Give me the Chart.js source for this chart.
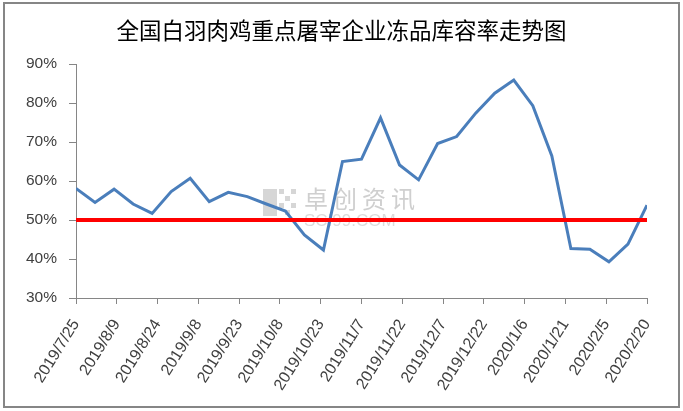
<!DOCTYPE html>
<html>
<head>
<meta charset="utf-8">
<script src="https://cdn.jsdelivr.net/npm/chart.js@4"></script>
<style>
html,body{margin:0;padding:0;background:#fff;}
#wrap{position:relative;width:683px;height:411px;}
</style>
</head>
<body>
<div id="wrap"><canvas id="c" width="683" height="411"></canvas></div>
<script>
const chartTitle = '全国白羽肉鸡重点屠宰企业冻品库容率走势图';
const dates = ['2019/7/25','2019/8/1','2019/8/8','2019/8/15','2019/8/22','2019/8/29','2019/9/5','2019/9/12','2019/9/19','2019/9/26','2019/10/3','2019/10/10','2019/10/17','2019/10/24','2019/10/31','2019/11/7','2019/11/14','2019/11/21','2019/11/28','2019/12/5','2019/12/12','2019/12/19','2019/12/26','2020/1/2','2020/1/9','2020/1/16','2020/1/23','2020/1/30','2020/2/6','2020/2/13','2020/2/20'];
const rates = [58.1, 54.5, 57.9, 54.1, 51.7, 57.3, 60.7, 54.7, 57.1, 56.0, 54.1, 52.3, 46.2, 42.3, 65.0, 65.6, 76.2, 64.1, 60.3, 69.6, 71.4, 77.4, 82.5, 85.9, 79.3, 66.4, 42.7, 42.5, 39.3, 43.8, 53.8];
const tickLabels = ['2019/7/25','2019/8/9','2019/8/24','2019/9/8','2019/9/23','2019/10/8','2019/10/23','2019/11/7','2019/11/22','2019/12/7','2019/12/22','2020/1/6','2020/1/21','2020/2/5','2020/2/20'];
const yTicks = [30, 40, 50, 60, 70, 80, 90];
const warningLevel = 50;
const watermark = ['卓创资讯', 'SCI99.COM'];

function dayNum(s){ const p = s.split('/').map(Number); return Date.UTC(p[0], p[1]-1, p[2]) / 86400000; }
const day0 = dayNum(dates[0]);
const toX = s => dayNum(s) - day0;
const tickDays = tickLabels.map(toX);
const lastDay = toX(dates[dates.length-1]);

const lineData = dates.map((d,i) => ({x: toX(d), y: rates[i]}));
const refData = [{x: 0, y: warningLevel}, {x: lastDay, y: warningLevel}];

const GRAY = '#868686';
const TXT = '#404040';

const framePlugin = {
  id: 'frame',
  beforeDraw(chart){
    const ctx = chart.ctx;
    ctx.save();
    ctx.fillStyle = '#fff';
    ctx.fillRect(0,0,chart.width,chart.height);
    ctx.restore();
  },
  beforeDatasetsDraw(chart){
    const ctx = chart.ctx;
    ctx.save();
    ctx.fillStyle = 'rgba(200,200,200,0.75)';
    ctx.fillRect(263, 189, 14, 27);
    for (let r=0;r<4;r++) for (let c=0;c<3;c++) if ((r+c)%2===0) ctx.fillRect(279+c*6, 189+r*7, 5, 5);
    ctx.fillStyle = 'rgba(195,195,195,0.8)';
    ctx.font = '24px "Noto Sans CJK SC"';
    ctx.textBaseline = 'middle';
    watermark[0].split('').forEach((ch,i)=>ctx.fillText(ch, 304 + i*29, 199));
    ctx.font = '17px "Liberation Sans"';
    ctx.fillStyle = 'rgba(210,210,210,0.8)';
    ctx.fillText(watermark[1], 304, 221);
    ctx.restore();
  },
  afterDraw(chart){
    const ctx = chart.ctx;
    ctx.save();
    ctx.strokeStyle = GRAY;
    ctx.lineWidth = 2;
    ctx.strokeRect(4, 3, 675, 404);
    ctx.restore();
  }
};

new Chart(document.getElementById('c'), {
  type: 'line',
  data: {
    datasets: [
      { data: lineData, borderColor: '#4a7ebb', borderWidth: 3, pointRadius: 0, tension: 0, fill: false, order: 2 },
      { data: refData, borderColor: '#ff0000', borderWidth: 4, pointRadius: 0, tension: 0, fill: false, order: 1 }
    ]
  },
  options: {
    responsive: false,
    animation: false,
    devicePixelRatio: 1,
    layout: { padding: { left: 0, right: 0, top: 0, bottom: 0 } },
    plugins: {
      legend: { display: false },
      tooltip: { enabled: false },
      title: {
        display: true,
        text: chartTitle,
        color: '#000',
        font: { family: '"Noto Sans CJK SC"', size: 22.5, weight: 'normal', lineHeight: 1.2 },
        padding: { top: 17, bottom: 20 }
      }
    },
    scales: {
      x: {
        type: 'linear',
        min: 0,
        max: lastDay,
        afterBuildTicks(scale){ scale.ticks = tickDays.map(v => ({value: v})); },
        afterFit(scale){ scale.height = 113; },
        grid: { drawOnChartArea: false, drawTicks: true, tickLength: 6, color: GRAY },
        border: { display: true, color: GRAY, width: 1 },
        ticks: {
          autoSkip: false,
          minRotation: 58,
          maxRotation: 58,
          padding: 12,
          color: TXT,
          font: { family: '"Liberation Sans"', size: 16 },
          callback: (v, i) => tickLabels[i]
        }
      },
      y: {
        min: yTicks[0],
        max: yTicks[yTicks.length-1],
        afterBuildTicks(scale){ scale.ticks = yTicks.map(v => ({value: v})); },
        afterFit(scale){ scale.width = 76; },
        grid: { drawOnChartArea: false, drawTicks: true, tickLength: 7, color: GRAY },
        border: { display: true, color: GRAY, width: 1 },
        ticks: {
          padding: 12,
          color: TXT,
          font: { family: '"Liberation Sans"', size: 15.5 },
          callback: v => v + '%'
        }
      },
      yRight: {
        position: 'right',
        display: true,
        afterFit(scale){ scale.width = 36; },
        grid: { display: false, drawTicks: false },
        border: { display: false },
        ticks: { display: false }
      }
    }
  },
  plugins: [framePlugin]
});
</script>
</body>
</html>
